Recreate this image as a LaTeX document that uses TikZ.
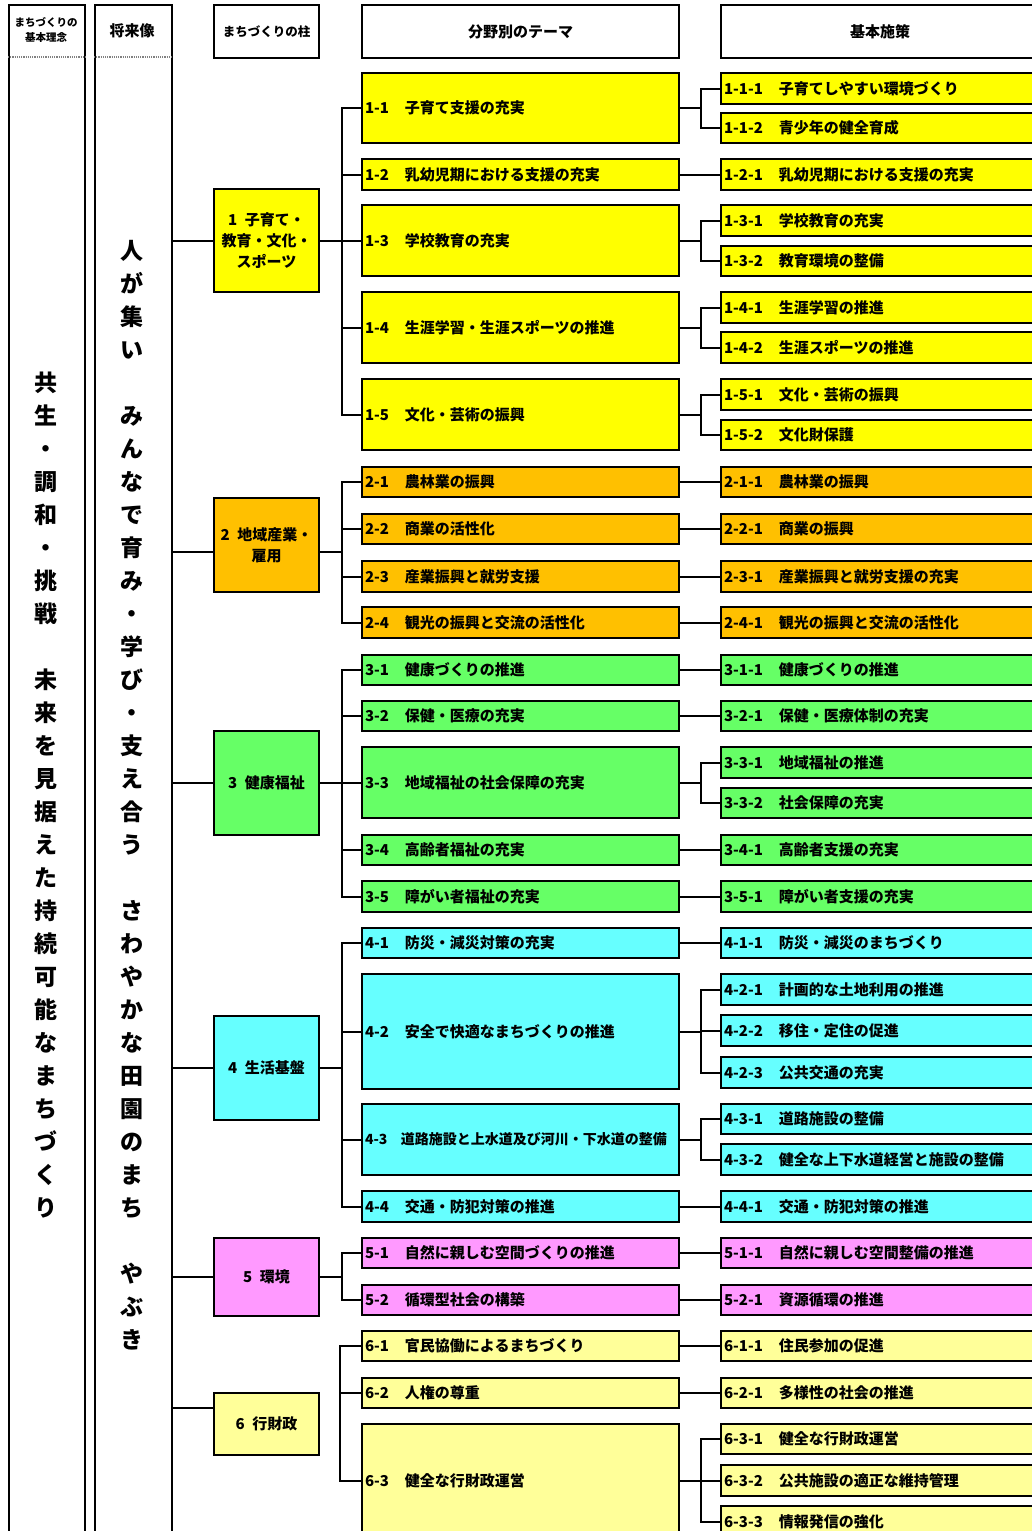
\documentclass[tikz,border=0pt]{standalone}
\usepackage{fontspec}
\setmainfont{Noto Sans CJK JP}
\definecolor{amarillo}{HTML}{FFFF00}
\definecolor{naranja}{HTML}{FFC000}
\definecolor{verde}{HTML}{66FF66}
\definecolor{celeste}{HTML}{66FFFF}
\definecolor{rosa}{HTML}{FF99FF}
\definecolor{crema}{HTML}{FFFF99}
\newcommand\tema[3][40pt]{\makebox[#1][l]{#2}#3}
\newcommand\sesaku[2]{\makebox[55pt][l]{#1}#2}
\begin{document}
\begin{tikzpicture}[x=1pt, y=-1pt,
  caja/.style={draw, line width=2pt, anchor=north west, inner ysep=0pt},
  tem/.style={caja, minimum width=317, text width=311, inner xsep=3pt, align=left,
    font=\bfseries\fontsize{15}{18}\selectfont},
  ses/.style={caja, minimum width=318, text width=312, inner xsep=3pt, align=left,
    font=\bfseries\fontsize{15}{18}\selectfont},
  pil/.style={caja, minimum width=105, align=center, inner xsep=0pt,
    font=\bfseries\fontsize{15}{21}\selectfont},
  cab/.style={caja, minimum height=53, align=center},
  vtexto/.style={align=center, inner sep=0pt, anchor=north,
    font=\bfseries\fontsize{23}{33}\selectfont},
  linea/.style={line width=2pt}]
  \useasboundingbox (0,0) rectangle (1032,1531);
  \clip (0,0) rectangle (1032,1531);
  % columnas de la izquierda
  \node[caja, minimum width=76, minimum height=1545] (c1) at (8,4) {};
  \node[caja, minimum width=77, minimum height=1545] (c2) at (94,4) {};
  \draw[gray, densely dotted, line width=1.2pt] (c1.west |- 0,57) -- (c1.east |- 0,57);
  \draw[gray, densely dotted, line width=1.2pt] (c2.west |- 0,57) -- (c2.east |- 0,57);
  \node[align=center, font=\bfseries\fontsize{10.5}{15}\selectfont] (h1) at (46,30) {まちづくりの\\基本理念};
  \node[font=\bfseries\fontsize{15}{18}\selectfont] (h2) at (132,31) {将来像};
  \node[vtexto] (rinen) at (46,372) {共\\生\\・\\調\\和\\・\\挑\\戦\\　\\未\\来\\を\\見\\据\\え\\た\\持\\続\\可\\能\\な\\ま\\ち\\づ\\く\\り};
  \node[vtexto] (shorai) at (132,240) {人\\が\\集\\い\\　\\み\\ん\\な\\で\\育\\み\\・\\学\\び\\・\\支\\え\\合\\う\\　\\さ\\わ\\や\\か\\な\\田\\園\\の\\ま\\ち\\　\\や\\ぶ\\き};
  % cabeceras
  \node[cab, minimum width=105, font=\bfseries\fontsize{12.5}{15}\selectfont] (h3) at (213,4) {まちづくりの柱};
  \node[cab, minimum width=317, font=\bfseries\fontsize{15}{18}\selectfont] (h4) at (361,4) {分野別のテーマ};
  \node[cab, minimum width=318, font=\bfseries\fontsize{15}{18}\selectfont] (h5) at (720,4) {基本施策};
  % pilares
  \node[pil, fill=amarillo, minimum height=103] (p1) at (213,188) {1\enspace 子育て・\\教育・文化・\\スポーツ};
  \node[pil, fill=naranja, minimum height=94] (p2) at (213,497) {2\enspace 地域産業・\\雇用};
  \node[pil, fill=verde, minimum height=104] (p3) at (213,730) {3\enspace 健康福祉};
  \node[pil, fill=celeste, minimum height=104] (p4) at (213,1015) {4\enspace 生活基盤};
  \node[pil, fill=rosa, minimum height=78] (p5) at (213,1237) {5\enspace 環境};
  \node[pil, fill=crema, minimum height=62] (p6) at (213,1392) {6\enspace 行財政};
  % temas por campo
  \node[tem, fill=amarillo, minimum height=70] (t11) at (361,72) {\tema{1-1}{子育て支援の充実}};
  \node[tem, fill=amarillo, minimum height=31] (t12) at (361,158) {\tema{1-2}{乳幼児期における支援の充実}};
  \node[tem, fill=amarillo, minimum height=71] (t13) at (361,204) {\tema{1-3}{学校教育の充実}};
  \node[tem, fill=amarillo, minimum height=71] (t14) at (361,291) {\tema{1-4}{生涯学習・生涯スポーツの推進}};
  \node[tem, fill=amarillo, minimum height=71] (t15) at (361,378) {\tema{1-5}{文化・芸術の振興}};
  \node[tem, fill=naranja, minimum height=30] (t21) at (361,466) {\tema{2-1}{農林業の振興}};
  \node[tem, fill=naranja, minimum height=30] (t22) at (361,513) {\tema{2-2}{商業の活性化}};
  \node[tem, fill=naranja, minimum height=31] (t23) at (361,560) {\tema{2-3}{産業振興と就労支援}};
  \node[tem, fill=naranja, minimum height=31] (t24) at (361,606) {\tema{2-4}{観光の振興と交流の活性化}};
  \node[tem, fill=verde, minimum height=30] (t31) at (361,654) {\tema{3-1}{健康づくりの推進}};
  \node[tem, fill=verde, minimum height=30] (t32) at (361,700) {\tema{3-2}{保健・医療の充実}};
  \node[tem, fill=verde, minimum height=71] (t33) at (361,746) {\tema{3-3}{地域福祉の社会保障の充実}};
  \node[tem, fill=verde, minimum height=30] (t34) at (361,834) {\tema{3-4}{高齢者福祉の充実}};
  \node[tem, fill=verde, minimum height=31] (t35) at (361,880) {\tema{3-5}{障がい者福祉の充実}};
  \node[tem, fill=celeste, minimum height=30] (t41) at (361,927) {\tema{4-1}{防災・減災対策の充実}};
  \node[tem, fill=celeste, minimum height=115] (t42) at (361,973) {\tema{4-2}{安全で快適なまちづくりの推進}};
  \node[tem, fill=celeste, minimum height=71, font=\bfseries\fontsize{14}{17}\selectfont] (t43) at (361,1103) {\tema[36pt]{4-3}{道路施設と上水道及び河川・下水道の整備}};
  \node[tem, fill=celeste, minimum height=31] (t44) at (361,1190) {\tema{4-4}{交通・防犯対策の推進}};
  \node[tem, fill=rosa, minimum height=30] (t51) at (361,1237) {\tema{5-1}{自然に親しむ空間づくりの推進}};
  \node[tem, fill=rosa, minimum height=30] (t52) at (361,1284) {\tema{5-2}{循環型社会の構築}};
  \node[tem, fill=crema, minimum height=30] (t61) at (361,1330) {\tema{6-1}{官民協働によるまちづくり}};
  \node[tem, fill=crema, minimum height=30] (t62) at (361,1377) {\tema{6-2}{人権の尊重}};
  \node[tem, fill=crema, minimum height=114] (t63) at (361,1423) {\tema{6-3}{健全な行財政運営}};
  % medidas basicas
  \node[ses, fill=amarillo, minimum height=31] (s111) at (720,72) {\sesaku{1-1-1}{子育てしやすい環境づくり}};
  \node[ses, fill=amarillo, minimum height=30] (s112) at (720,112) {\sesaku{1-1-2}{青少年の健全育成}};
  \node[ses, fill=amarillo, minimum height=31] (s121) at (720,158) {\sesaku{1-2-1}{乳幼児期における支援の充実}};
  \node[ses, fill=amarillo, minimum height=31] (s131) at (720,204) {\sesaku{1-3-1}{学校教育の充実}};
  \node[ses, fill=amarillo, minimum height=30] (s132) at (720,245) {\sesaku{1-3-2}{教育環境の整備}};
  \node[ses, fill=amarillo, minimum height=31] (s141) at (720,291) {\sesaku{1-4-1}{生涯学習の推進}};
  \node[ses, fill=amarillo, minimum height=31] (s142) at (720,331) {\sesaku{1-4-2}{生涯スポーツの推進}};
  \node[ses, fill=amarillo, minimum height=31] (s151) at (720,378) {\sesaku{1-5-1}{文化・芸術の振興}};
  \node[ses, fill=amarillo, minimum height=30] (s152) at (720,419) {\sesaku{1-5-2}{文化財保護}};
  \node[ses, fill=naranja, minimum height=30] (s211) at (720,466) {\sesaku{2-1-1}{農林業の振興}};
  \node[ses, fill=naranja, minimum height=30] (s221) at (720,513) {\sesaku{2-2-1}{商業の振興}};
  \node[ses, fill=naranja, minimum height=31] (s231) at (720,560) {\sesaku{2-3-1}{産業振興と就労支援の充実}};
  \node[ses, fill=naranja, minimum height=31] (s241) at (720,606) {\sesaku{2-4-1}{観光の振興と交流の活性化}};
  \node[ses, fill=verde, minimum height=30] (s311) at (720,654) {\sesaku{3-1-1}{健康づくりの推進}};
  \node[ses, fill=verde, minimum height=30] (s321) at (720,700) {\sesaku{3-2-1}{保健・医療体制の充実}};
  \node[ses, fill=verde, minimum height=31] (s331) at (720,746) {\sesaku{3-3-1}{地域福祉の推進}};
  \node[ses, fill=verde, minimum height=30] (s332) at (720,787) {\sesaku{3-3-2}{社会保障の充実}};
  \node[ses, fill=verde, minimum height=30] (s341) at (720,834) {\sesaku{3-4-1}{高齢者支援の充実}};
  \node[ses, fill=verde, minimum height=31] (s351) at (720,880) {\sesaku{3-5-1}{障がい者支援の充実}};
  \node[ses, fill=celeste, minimum height=30] (s411) at (720,927) {\sesaku{4-1-1}{防災・減災のまちづくり}};
  \node[ses, fill=celeste, minimum height=31] (s421) at (720,973) {\sesaku{4-2-1}{計画的な土地利用の推進}};
  \node[ses, fill=celeste, minimum height=31] (s422) at (720,1014) {\sesaku{4-2-2}{移住・定住の促進}};
  \node[ses, fill=celeste, minimum height=31] (s423) at (720,1056) {\sesaku{4-2-3}{公共交通の充実}};
  \node[ses, fill=celeste, minimum height=30] (s431) at (720,1103) {\sesaku{4-3-1}{道路施設の整備}};
  \node[ses, fill=celeste, minimum height=31] (s432) at (720,1143) {\sesaku{4-3-2}{健全な上下水道経営と施設の整備}};
  \node[ses, fill=celeste, minimum height=31] (s441) at (720,1190) {\sesaku{4-4-1}{交通・防犯対策の推進}};
  \node[ses, fill=rosa, minimum height=30] (s511) at (720,1237) {\sesaku{5-1-1}{自然に親しむ空間整備の推進}};
  \node[ses, fill=rosa, minimum height=30] (s521) at (720,1284) {\sesaku{5-2-1}{資源循環の推進}};
  \node[ses, fill=crema, minimum height=30] (s611) at (720,1330) {\sesaku{6-1-1}{住民参加の促進}};
  \node[ses, fill=crema, minimum height=30] (s621) at (720,1377) {\sesaku{6-2-1}{多様性の社会の推進}};
  \node[ses, fill=crema, minimum height=30] (s631) at (720,1423) {\sesaku{6-3-1}{健全な行財政運営}};
  \node[ses, fill=crema, minimum height=31] (s632) at (720,1464) {\sesaku{6-3-2}{公共施設の適正な維持管理}};
  \node[ses, fill=crema, minimum height=31] (s633) at (720,1505) {\sesaku{6-3-3}{情報発信の強化}};
  % lineas: columna -- pilares
  \draw[linea] (c2.east |- p1.west) -- (p1.west);
  \draw[linea] (c2.east |- 0,552) -- (p2.west |- 0,552);
  \draw[linea] (c2.east |- p3.west) -- (p3.west);
  \draw[linea] (c2.east |- p4.west) -- (p4.west);
  \draw[linea] (c2.east |- p5.west) -- (p5.west);
  \draw[linea] (c2.east |- 0,1408) -- (p6.west |- 0,1408);
  % lineas: pilares -- temas
  \foreach \t in {t11,t12,t13,t14,t15}
    \draw[linea] (p1.east) -- ++(22,0) |- (\t.west);
  \foreach \t in {t21,t22,t23,t24}
    \draw[linea] (p2.east |- 0,552) -- ++(22,0) |- (\t.west);
  \foreach \t in {t31,t32,t33,t34,t35}
    \draw[linea] (p3.east) -- ++(22,0) |- (\t.west);
  \foreach \t in {t41,t42,t43,t44}
    \draw[linea] (p4.east) -- ++(22,0) |- (\t.west);
  \foreach \t in {t51,t52}
    \draw[linea] (p5.east) -- ++(22,0) |- (\t.west);
  \draw[linea] (t61.west) -- ++(-21,0) |- (t63.west);
  \draw[linea] (t62.west) -- ++(-21,0);
  % lineas: temas -- medidas
  \foreach \s in {s111,s112} \draw[linea] (t11.east) -- ++(21,0) |- (\s.west);
  \draw[linea] (t12.east) -- (s121.west);
  \foreach \s in {s131,s132} \draw[linea] (t13.east) -- ++(21,0) |- (\s.west);
  \foreach \s in {s141,s142} \draw[linea] (t14.east) -- ++(21,0) |- (\s.west);
  \foreach \s in {s151,s152} \draw[linea] (t15.east) -- ++(21,0) |- (\s.west);
  \draw[linea] (t21.east) -- (s211.west);
  \draw[linea] (t22.east) -- (s221.west);
  \draw[linea] (t23.east) -- (s231.west);
  \draw[linea] (t24.east) -- (s241.west);
  \draw[linea] (t31.east) -- (s311.west);
  \draw[linea] (t32.east) -- (s321.west);
  \foreach \s in {s331,s332} \draw[linea] (t33.east) -- ++(21,0) |- (\s.west);
  \draw[linea] (t34.east) -- (s341.west);
  \draw[linea] (t35.east) -- (s351.west);
  \draw[linea] (t41.east) -- (s411.west);
  \foreach \s in {s421,s422,s423} \draw[linea] (t42.east) -- ++(21,0) |- (\s.west);
  \foreach \s in {s431,s432} \draw[linea] (t43.east) -- ++(21,0) |- (\s.west);
  \draw[linea] (t44.east) -- (s441.west);
  \draw[linea] (t51.east) -- (s511.west);
  \draw[linea] (t52.east) -- (s521.west);
  \draw[linea] (t61.east) -- (s611.west);
  \draw[linea] (t62.east) -- (s621.west);
  \foreach \s in {s631,s632,s633} \draw[linea] (t63.east) -- ++(21,0) |- (\s.west);
\end{tikzpicture}
\end{document}
